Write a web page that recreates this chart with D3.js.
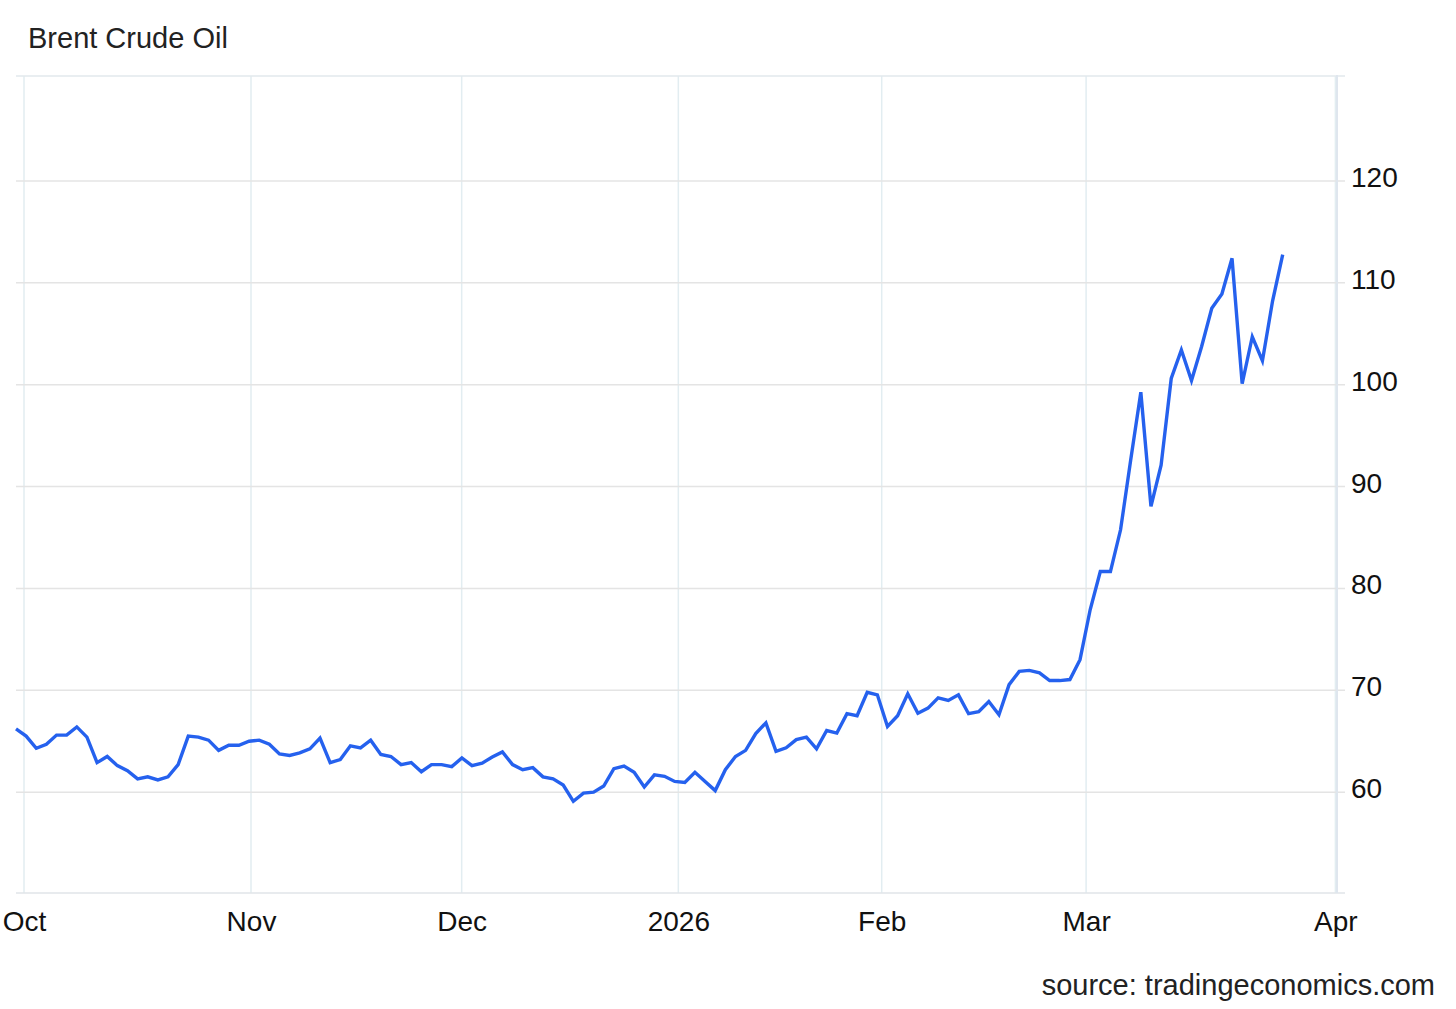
<!DOCTYPE html>
<html>
<head>
<meta charset="utf-8">
<script src="https://cdn.jsdelivr.net/npm/d3@7"></script>
<style>
  html, body { margin: 0; padding: 0; background: #ffffff; }
  svg { display: block; font-family: "Liberation Sans", Arial, sans-serif; }
</style>
</head>
<body>
<svg id="chart" width="1456" height="1009"></svg>
<script>
// ---- Data (daily Brent closes) ----
const brentValues = [
  66.2, 65.5, 64.3, 64.7, 65.6, 65.6, 66.4, 65.4, 62.9, 63.5,
  62.6, 62.1, 61.3, 61.5, 61.2, 61.5, 62.7, 65.5, 65.4, 65.1,
  64.1, 64.6, 64.6, 65.0, 65.1, 64.7, 63.75, 63.6, 63.85, 64.25,
  65.3, 62.9, 63.2, 64.55, 64.35, 65.1, 63.7, 63.5, 62.7, 62.9,
  62.0, 62.7, 62.7, 62.5, 63.35, 62.6, 62.85, 63.45, 63.95, 62.7,
  62.2, 62.4, 61.5, 61.3, 60.7, 59.1, 59.9, 60.0, 60.6, 62.3,
  62.55, 61.95, 60.5, 61.7, 61.55, 61.05, 60.95, 61.95, 61.05, 60.15,
  62.2, 63.5, 64.1, 65.75, 66.8, 64.0, 64.35, 65.15, 65.4, 64.25,
  66.05, 65.8, 67.7, 67.5, 69.8, 69.55, 66.45, 67.5, 69.65, 67.75,
  68.25, 69.25, 69.0, 69.55, 67.7, 67.9, 68.9, 67.6, 70.55, 71.85,
  71.95, 71.7, 70.95, 70.95, 71.05, 73.0, 77.9, 81.65, 81.65, 85.75,
  92.6, 99.25, 88.05, 92.1, 100.6, 103.4, 100.4, 103.75, 107.5, 108.9,
  112.4, 100.1, 104.7, 102.35, 108.2, 112.75
];

// Month ticks, positioned in trading-day index units
const xTickLabels = ["Oct", "Nov", "Dec", "2026", "Feb", "Mar", "Apr"];
const xTickIndex  = [0.79, 23.19, 43.98, 65.36, 85.43, 105.6, 130.2];

const yTickValues = [60, 70, 80, 90, 100, 110, 120];
const yDomain = [50, 130];

const titleText = "Brent Crude Oil";
const sourceText = "source: tradingeconomics.com";

// ---- Layout ----
const plotLeft = 16, plotRight = 1345, plotTop = 76, plotBottom = 893;
const axisLineX = 1337;

const svg = d3.select("#chart");
svg.append("rect").attr("width", 1456).attr("height", 1009).attr("fill", "#ffffff");

const x = d3.scaleLinear()
  .domain([0, brentValues.length - 1])
  .range([16, 1282.7]);

const y = d3.scaleLinear()
  .domain(yDomain)
  .range([894, 79]);

// Vertical month grid lines
svg.append("g")
  .selectAll("line")
  .data(xTickIndex)
  .join("line")
  .attr("x1", d => x(d)).attr("x2", d => x(d))
  .attr("y1", plotTop).attr("y2", plotBottom)
  .attr("stroke", "#e2edf1")
  .attr("stroke-width", 1.5);

// Horizontal grid lines
svg.append("g")
  .selectAll("line")
  .data(yTickValues)
  .join("line")
  .attr("x1", plotLeft).attr("x2", plotRight)
  .attr("y1", d => y(d)).attr("y2", d => y(d))
  .attr("stroke", "#e4e4e4")
  .attr("stroke-width", 1.5);

// Top border
svg.append("line")
  .attr("x1", plotLeft).attr("x2", plotRight)
  .attr("y1", plotTop).attr("y2", plotTop)
  .attr("stroke", "#e2e8ec").attr("stroke-width", 1.5);

// Bottom border
svg.append("line")
  .attr("x1", plotLeft).attr("x2", plotRight)
  .attr("y1", plotBottom).attr("y2", plotBottom)
  .attr("stroke", "#e0e4e8").attr("stroke-width", 1.5);

// Right axis line
svg.append("line")
  .attr("x1", axisLineX).attr("x2", axisLineX)
  .attr("y1", plotTop - 1).attr("y2", plotBottom)
  .attr("stroke", "#dfe6ee").attr("stroke-width", 2);

// Y axis labels (right)
const yAxis = d3.axisRight(y).tickValues(yTickValues).tickSize(0).tickPadding(0);
const gy = svg.append("g").attr("transform", `translate(1351,0)`).call(yAxis);
gy.select(".domain").remove();
gy.selectAll("text")
  .attr("x", 0)
  .attr("dy", "0.2em")
  .attr("fill", "#111111")
  .style("font-size", "28px")
  .style("font-family", '"Liberation Sans", Arial, sans-serif');

// X axis labels
const xAxis = d3.axisBottom(x)
  .tickValues(xTickIndex)
  .tickFormat((d, i) => xTickLabels[i])
  .tickSize(0).tickPadding(0);
const gx = svg.append("g").attr("transform", `translate(0,${plotBottom})`).call(xAxis);
gx.select(".domain").remove();
gx.selectAll("text")
  .attr("y", 18.6)
  .attr("fill", "#111111")
  .style("font-size", "28px")
  .style("font-family", '"Liberation Sans", Arial, sans-serif');

// Line
const line = d3.line()
  .x((d, i) => x(i))
  .y(d => y(d));

svg.append("path")
  .datum(brentValues)
  .attr("d", line)
  .attr("fill", "none")
  .attr("stroke", "#2561ee")
  .attr("stroke-width", 3.4)
  .attr("stroke-linejoin", "miter")
  .attr("stroke-linecap", "butt");

// Title
svg.append("text")
  .attr("x", 28).attr("y", 48)
  .attr("fill", "#222222")
  .style("font-size", "29px")
  .text(titleText);

// Source
svg.append("text")
  .attr("x", 1435).attr("y", 995)
  .attr("text-anchor", "end")
  .attr("fill", "#222222")
  .style("font-size", "29px")
  .text(sourceText);
</script>
</body>
</html>
